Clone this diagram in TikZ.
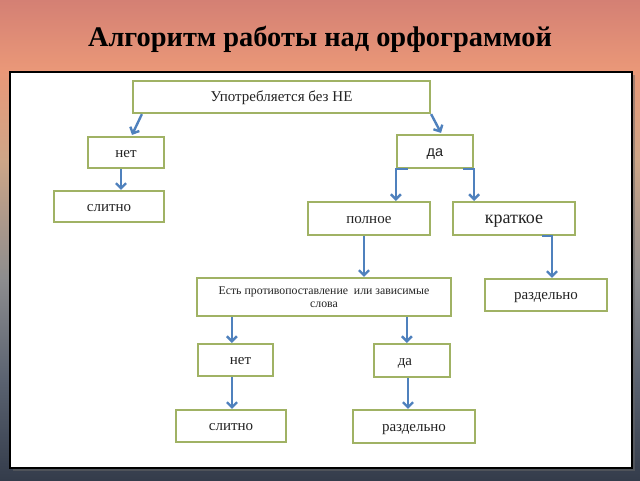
\documentclass[tikz,border=0pt]{standalone}
\usepackage{fontspec}
\setmainfont{Liberation Serif}
\newfontfamily\sansf{Liberation Sans}
\usetikzlibrary{arrows.meta,calc}
\definecolor{boxgreen}{RGB}{160,178,100}
\definecolor{arrblue}{RGB}{79,129,189}
\definecolor{txt}{RGB}{35,35,35}
\definecolor{bgA}{RGB}{212,128,116}
\definecolor{bgB}{RGB}{234,152,120}
\definecolor{bgC}{RGB}{205,165,135}
\definecolor{bgD}{RGB}{140,140,142}
\definecolor{bgE}{RGB}{90,98,112}
\definecolor{bgF}{RGB}{52,60,75}
\tikzset{
  box/.style={draw=boxgreen, line width=2.2pt, fill=white, inner sep=0pt, text=txt, align=center, text height=2.1ex, text depth=0pt, font=\fontsize{15}{16}\selectfont},
  arr/.style={draw=arrblue, line width=2.4pt, -{Straight Barb[length=5pt,width=10pt]}},
}
\begin{document}
\begin{tikzpicture}[x=1pt,y=-1pt]
\useasboundingbox (0,0) rectangle (640,480);
% background bands
\shade[top color=bgA, bottom color=bgB] (0,0) rectangle (640,71);
\shade[top color=bgB, bottom color=bgC] (0,70) rectangle (640,161);
\shade[top color=bgC, bottom color=bgD] (0,160) rectangle (640,281);
\shade[top color=bgD, bottom color=bgE] (0,280) rectangle (640,381);
\shade[top color=bgE, bottom color=bgF] (0,380) rectangle (640,480);
% title
\node[font=\fontsize{28.4}{32}\selectfont\bfseries, text=black] (title) at (320,39) {Алгоритм работы над орфограммой};
% panel
\fill[black!60, opacity=0.5] (13,75) rectangle (635,471);
\draw[black, line width=2pt, fill=white] (10,72) rectangle (632,468);
% boxes
\node[box, minimum width=297pt, minimum height=32pt] (top) at (281.5,97) {Употребляется без НЕ};
\node[box, minimum width=76pt, minimum height=31pt] (no1) at (126,152.5) {нет};
\node[box, minimum width=110pt, minimum height=31pt] (sl1) at (109,206.5) {слитно};
\node[box, minimum width=76pt, minimum height=33pt, font=\sansf\fontsize{14.5}{15}\selectfont] (da1) at (435,151.5) {да};
\node[box, minimum width=122pt, minimum height=33pt] (pol) at (369,218.5) {полное};
\node[box, minimum width=122pt, minimum height=33pt, font=\fontsize{18}{19}\selectfont] (kr) at (514,218.5) {краткое};
\node[box, minimum width=254pt, minimum height=38pt, text height={}, text depth={}, font=\fontsize{11.8}{12.5}\selectfont] (est) at (324,297) {Есть противопоставление~ или зависимые\\слова};
\node[box, minimum width=122pt, minimum height=32pt] (rz1) at (546,295) {раздельно};
\node[box, minimum width=75pt, minimum height=32pt] (no2) at (235.5,360) {\hspace*{10pt}нет};
\node[box, minimum width=76pt, minimum height=33pt] (da2) at (412,360.5) {да\hspace*{14pt}};
\node[box, minimum width=110pt, minimum height=32pt] (sl2) at (231,426) {слитно};
\node[box, minimum width=122pt, minimum height=33pt] (rz2) at (414,426.5) {раздельно};
% connectors
\draw[arr] ($(top.south west)+(10,0)$) -- ($(no1.north)+(6,-1)$);
\draw[arr] (top.south east) -- ($(da1.north)+(6,-1)$);
\draw[arr] ([xshift=-5pt]no1.south) -- ([xshift=-5pt]no1.south |- sl1.north);
\draw[arr] ([xshift=12pt]da1.south west) -- (da1.south west) -- (da1.south west |- pol.north);
\draw[arr] ([xshift=-11pt]da1.south east) -- (da1.south east) -- (da1.south east |- kr.north);
\draw[arr] ([xshift=-5pt]pol.south) -- ([xshift=-5pt]pol.south |- est.north);
\draw[arr] ([xshift=28pt]kr.south) -- ([xshift=38pt]kr.south) -- ([xshift=38pt]kr.south |- rz1.north);
\draw[arr] ([xshift=36pt]est.south west) -- ([xshift=36pt]est.south west |- no2.north);
\draw[arr] ([xshift=211pt]est.south west) -- ([xshift=211pt]est.south west |- da2.north);
\draw[arr] ([xshift=-3.5pt]no2.south) -- ([xshift=-3.5pt]no2.south |- sl2.north);
\draw[arr] ([xshift=-4pt]da2.south) -- ([xshift=-4pt]da2.south |- rz2.north);
\end{tikzpicture}
\end{document}
